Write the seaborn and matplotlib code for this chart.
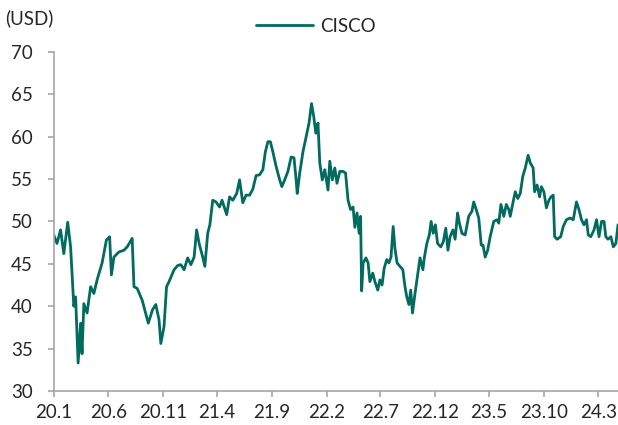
import pandas as pd
import seaborn as sns
import matplotlib.pyplot as plt

# Cours de l'action Cisco (USD)
dates = [
    "2020-01-01", "2020-01-10", "2020-01-20", "2020-01-29", "2020-02-09", "2020-02-17",
    "2020-02-26", "2020-03-02", "2020-03-09", "2020-03-16", "2020-03-20", "2020-03-25",
    "2020-04-03", "2020-04-13", "2020-04-22", "2020-05-01", "2020-05-15", "2020-05-27",
    "2020-06-05", "2020-06-10", "2020-06-17", "2020-07-01", "2020-07-15", "2020-07-24",
    "2020-08-07", "2020-08-12", "2020-08-21", "2020-09-04", "2020-09-21", "2020-10-03",
    "2020-10-12", "2020-10-21", "2020-10-26", "2020-11-04", "2020-11-11", "2020-11-18",
    "2020-12-02", "2020-12-12", "2020-12-21", "2020-12-30", "2021-01-09", "2021-01-18",
    "2021-01-27", "2021-02-03", "2021-02-10", "2021-02-20", "2021-02-26", "2021-03-06",
    "2021-03-12", "2021-03-20", "2021-03-29", "2021-04-08", "2021-04-15", "2021-04-28",
    "2021-05-06", "2021-05-15", "2021-05-26", "2021-06-03", "2021-06-12", "2021-06-21",
    "2021-07-01", "2021-07-10", "2021-07-19", "2021-07-29", "2021-08-07", "2021-08-14",
    "2021-08-21", "2021-08-28", "2021-09-04", "2021-09-13", "2021-09-23", "2021-09-29",
    "2021-10-07", "2021-10-16", "2021-10-25", "2021-11-02", "2021-11-08", "2021-11-11",
    "2021-11-18", "2021-11-27", "2021-12-07", "2021-12-14", "2021-12-21", "2021-12-27",
    "2022-01-02", "2022-01-08", "2022-01-13", "2022-01-20", "2022-01-27", "2022-02-05",
    "2022-02-10", "2022-02-17", "2022-02-24", "2022-03-02", "2022-03-10", "2022-03-19",
    "2022-03-26", "2022-04-02", "2022-04-09", "2022-04-16", "2022-04-21", "2022-04-27",
    "2022-05-03", "2022-05-07", "2022-05-10", "2022-05-14", "2022-05-22", "2022-05-28",
    "2022-06-02", "2022-06-10", "2022-06-16", "2022-06-24", "2022-06-30", "2022-07-06",
    "2022-07-12", "2022-07-19", "2022-07-25", "2022-07-31", "2022-08-06", "2022-08-11",
    "2022-08-17", "2022-08-25", "2022-09-02", "2022-09-08", "2022-09-13", "2022-09-19",
    "2022-09-24", "2022-09-29", "2022-10-06", "2022-10-14", "2022-10-20", "2022-10-28",
    "2022-11-01", "2022-11-08", "2022-11-15", "2022-11-20", "2022-11-26", "2022-12-02",
    "2022-12-08", "2022-12-17", "2022-12-24", "2022-12-31", "2023-01-06", "2023-01-12",
    "2023-01-20", "2023-01-26", "2023-02-02", "2023-02-07", "2023-02-14", "2023-02-23",
    "2023-03-05", "2023-03-14", "2023-03-19", "2023-03-26", "2023-04-02", "2023-04-09",
    "2023-04-14", "2023-04-20", "2023-04-27", "2023-05-04", "2023-05-14", "2023-05-23",
    "2023-05-28", "2023-06-03", "2023-06-11", "2023-06-18", "2023-06-25", "2023-06-29",
    "2023-07-07", "2023-07-13", "2023-07-20", "2023-07-27", "2023-08-03", "2023-08-10",
    "2023-08-18", "2023-08-24", "2023-09-01", "2023-09-05", "2023-09-12", "2023-09-19",
    "2023-09-24", "2023-10-01", "2023-10-08", "2023-10-15", "2023-10-21", "2023-10-27",
    "2023-10-31", "2023-11-07", "2023-11-17", "2023-11-24", "2023-12-03", "2023-12-13",
    "2023-12-22", "2023-12-31", "2024-01-07", "2024-01-14", "2024-01-21", "2024-01-28",
    "2024-02-02", "2024-02-09", "2024-02-18", "2024-02-25", "2024-03-03", "2024-03-10",
    "2024-03-17", "2024-03-22", "2024-03-28", "2024-04-05", "2024-04-12", "2024-04-19",
    "2024-04-25",
]
prix = [
    48.4, 47.4, 49.0, 46.2, 49.9, 47.0,
    40.0, 41.1, 33.3, 38.0, 34.4, 40.3,
    39.2, 42.3, 41.5, 43.1, 45.1, 47.8,
    48.2, 43.7, 45.8, 46.4, 46.6, 47.0,
    48.0, 42.3, 42.1, 40.7, 38.0, 39.6,
    40.2, 38.4, 35.6, 37.6, 42.3, 42.9,
    44.3, 44.8, 44.9, 44.3, 45.7, 44.9,
    45.8, 49.0, 47.4, 45.8, 44.7, 48.6,
    49.6, 52.5, 52.3, 51.7, 52.5, 50.8,
    52.9, 52.5, 53.3, 54.9, 52.2, 53.1,
    53.1, 53.8, 55.4, 55.5, 56.1, 58.2,
    59.4, 59.4, 58.2, 56.5, 54.9, 54.1,
    54.9, 55.9, 57.6, 57.5, 54.9, 53.3,
    55.7, 58.2, 60.2, 61.6, 63.9, 62.4,
    60.4, 61.6, 56.9, 54.9, 56.1, 53.7,
    57.1, 54.9, 56.3, 54.5, 55.9, 55.9,
    55.7, 52.5, 51.4, 51.7, 49.3, 51.0,
    48.6, 50.6, 41.8, 45.1, 45.7, 45.1,
    42.9, 43.9, 42.9, 41.9, 43.1, 42.5,
    44.5, 45.5, 45.1, 45.8, 49.4, 46.8,
    45.1, 44.7, 44.3, 42.3, 41.1, 40.2,
    41.9, 39.2, 41.5, 43.9, 45.7, 44.3,
    45.7, 47.4, 48.4, 50.0, 48.6, 49.6,
    47.4, 47.0, 47.6, 49.2, 46.6, 48.2,
    49.0, 47.9, 51.0, 49.8, 48.6, 48.4,
    50.6, 51.2, 52.3, 51.4, 50.4, 47.2,
    47.2, 45.8, 46.6, 48.2, 50.0, 50.2,
    49.8, 52.0, 50.6, 52.0, 51.4, 50.6,
    52.3, 53.5, 52.7, 53.3, 55.3, 56.3,
    57.8, 56.9, 56.3, 53.5, 54.3, 52.9,
    54.1, 53.5, 51.6, 52.5, 52.9, 53.1,
    48.2, 47.9, 48.2, 49.4, 50.2, 50.4,
    50.2, 52.3, 51.4, 50.2, 49.6, 50.2,
    48.4, 48.2, 49.0, 50.2, 48.2, 50.0,
    50.0, 48.2, 47.9, 48.2, 47.0, 47.4,
    49.6,
]

tick_dates = ["2020-01-01", "2020-06-01", "2020-11-01", "2021-04-01", "2021-09-01", "2022-02-01",
              "2022-07-01", "2022-12-01", "2023-05-01", "2023-10-01", "2024-03-01"]
tick_labels = ["20.1", "20.6", "20.11", "21.4", "21.9", "22.2",
               "22.7", "22.12", "23.5", "23.10", "24.3"]

couleur = "#006b5e"
gris = "#a6a6a6"
texte = "#262626"

df = pd.DataFrame({"date": pd.to_datetime(dates), "prix": prix, "serie": "CISCO"})

sns.set_style("ticks")
plt.rcParams['font.family'] = ['Lato', 'DejaVu Sans']

fig = plt.figure(figsize=(6.18, 4.25), dpi=100)
ax = fig.add_axes([0.087, 0.08, 0.913, 0.798])

sns.lineplot(data=df, x="date", y="prix", hue="serie", palette=[couleur],
             linewidth=2.0, ax=ax)

ax.set_ylim(30, 70)
ax.set_yticks(range(30, 71, 5))
ax.set_xlim(pd.Timestamp("2020-01-01"), df["date"].iloc[-1])
ax.set_xticks(pd.to_datetime(tick_dates))
ax.set_xticklabels(tick_labels)
ax.set_xlabel("")
ax.set_ylabel("")

for side in ["top", "right"]:
    ax.spines[side].set_visible(False)
for side in ["left", "bottom"]:
    ax.spines[side].set_color(gris)
    ax.spines[side].set_linewidth(1.2)
ax.tick_params(axis="both", colors=gris, labelcolor=texte, labelsize=13.5,
               length=4, width=1.2)
ax.tick_params(axis="y", pad=11)
ax.tick_params(axis="x", pad=5)

leg = ax.legend(loc="lower center", bbox_to_anchor=(0.465, 1.0), frameon=False,
                fontsize=13.5, handlelength=3.0, handletextpad=0.4)
for line in leg.get_lines():
    line.set_linewidth(2.0)
for t in leg.get_texts():
    t.set_color(texte)

fig.text(0.008, 0.958, "(USD)", fontsize=13.5, color=texte, va="center")

fig.savefig("out.png", dpi=100)
